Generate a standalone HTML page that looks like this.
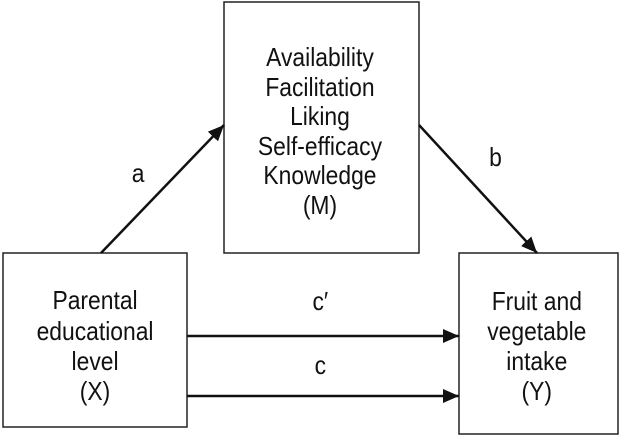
<!DOCTYPE html>
<html><head><style>
body{margin:0;background:#fff;}
svg text{font-family:"Liberation Sans",sans-serif;font-size:26px;fill:#111;text-anchor:middle;}
</style></head><body>
<svg width="620" height="437" viewBox="0 0 620 437" xmlns="http://www.w3.org/2000/svg">
<defs>
<marker id="ah" viewBox="0 0 16 14" markerWidth="16" markerHeight="14" refX="16" refY="7" orient="auto" markerUnits="userSpaceOnUse"><path d="M0,0 L16,7 L0,14 z" fill="#111"/></marker></defs>
<g fill="none" stroke="#222" stroke-width="1.5">
<rect x="224" y="2" width="195" height="251"/>
<rect x="3" y="253" width="184" height="174"/>
<rect x="459" y="253" width="159" height="181"/>
</g>
<g stroke="#111" stroke-width="2.5" fill="none">
<line x1="101" y1="253" x2="224" y2="125" marker-end="url(#ah)"/>
<line x1="419" y1="125" x2="537" y2="253" marker-end="url(#ah)"/>
<line x1="187" y1="336" x2="459" y2="336" marker-end="url(#ah)"/>
<line x1="187" y1="396" x2="459" y2="396" marker-end="url(#ah)"/>
</g>
<g transform="scale(0.88,1)">
<text x="363.6" y="66">Availability</text>
<text x="363.6" y="96">Facilitation</text>
<text x="363.6" y="125">Liking</text>
<text x="363.6" y="155">Self-efficacy</text>
<text x="363.6" y="184">Knowledge</text>
<text x="363.6" y="214">(M)</text>
<text x="108" y="309">Parental</text>
<text x="108" y="340">educational</text>
<text x="108" y="370">level</text>
<text x="108" y="400">(X)</text>
<text x="610" y="310">Fruit and</text>
<text x="610" y="340">vegetable</text>
<text x="610" y="370">intake</text>
<text x="610" y="400">(Y)</text>
<text x="157" y="182">a</text>
<text x="563" y="166">b</text>
<text x="364" y="310">c′</text>
<text x="364" y="374">c</text>
</g>
</svg>
</body></html>
